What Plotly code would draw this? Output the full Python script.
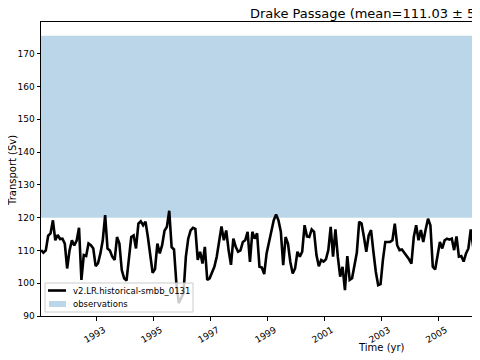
import plotly.graph_objects as go

# ---------------- data ----------------
start_year = 1991
transport = [
    110.1, 109.3, 110.0, 114.5, 115.2, 119.2, 113.1, 114.7, 113.5, 113.6,
    112.1, 104.5, 110.0, 113.1, 111.5, 113.0, 116.9, 101.0, 108.6, 108.3,
    112.1, 111.6, 110.6, 105.2, 106.1, 109.1, 113.1, 120.8, 110.6, 110.0,
    108.1, 107.1, 114.1, 112.1, 104.0, 101.5, 100.8, 108.1, 114.1, 114.6,
    110.6, 118.2, 118.9, 117.7, 118.8, 114.1, 108.1, 103.2, 104.3, 112.1,
    109.1, 111.6, 116.0, 117.2, 122.1, 111.0, 110.3, 100.0, 93.9, 95.5,
    97.0, 108.1, 113.6, 116.1, 116.9, 116.6, 107.1, 109.6, 106.0, 111.1,
    101.0, 101.5, 103.0, 105.0, 108.1, 112.1, 117.3, 113.1, 116.1, 110.1,
    105.6, 113.6, 111.1, 109.6, 110.0, 112.6, 113.1, 115.7, 106.5, 115.7,
    113.6, 115.2, 105.0, 104.8, 102.8, 109.1, 112.6, 116.2, 119.2, 121.0,
    119.2, 115.7, 105.5, 114.1, 112.1, 106.5, 103.0, 104.5, 109.6, 108.1,
    109.6, 117.7, 114.3, 114.1, 116.4, 115.7, 108.6, 105.2, 107.1, 106.6,
    107.3, 110.1, 117.2, 108.1, 116.4, 108.1, 102.0, 105.0, 97.9, 108.3,
    101.0, 101.5, 106.0, 109.3, 118.7, 118.2, 114.1, 109.6, 114.6, 116.2,
    109.6, 103.5, 99.4, 99.7, 107.1, 112.6, 112.6, 112.6, 113.1, 118.2,
    111.6, 110.1, 110.3, 109.3, 108.6, 107.3, 106.0, 114.1, 117.7, 113.1,
    116.2, 112.6, 116.4, 119.7, 117.7, 105.0, 104.2, 108.6, 112.6, 110.6,
    113.1, 113.6, 113.3, 113.6, 110.1, 114.3, 108.1, 108.3, 106.6, 109.1,
    110.6, 116.4, 111.1, 108.6, 116.2, 117.0,
]
time = [start_year + (i + 0.5) / 12 for i in range(len(transport))]

obs_low = 120.0
obs_high = 175.5

model_name = "v2.LR.historical-smbb_0131"
obs_name = "observations"
title_text = "Drake Passage (mean=111.03 \u00b1 5.12)"
x_title = "Time (yr)"
y_title = "Transport (Sv)"

x_range = [1991.04, 2006.73]
y_range = [90, 179.7]
xtick_vals = [1993, 1995, 1997, 1999, 2001, 2003, 2005]
xtick_text = [str(v) for v in xtick_vals]
ytick_vals = [90, 100, 110, 120, 130, 140, 150, 160, 170]

FONT = "DejaVu Sans"
BAND_COLOR = "rgba(31,119,180,0.3)"

# plot-area geometry in page pixels (used for text / legend placement)
PX_L, PX_W, PX_B, PX_H = 41.0, 447.0, 316.0, 294.0


def px(xp):
    return (xp - PX_L) / PX_W


def py(yp):
    return (PX_B - yp) / PX_H


fig = go.Figure()

# observation band
fig.add_trace(go.Scatter(
    x=[x_range[0], x_range[1], x_range[1], x_range[0], x_range[0]],
    y=[obs_low, obs_low, obs_high, obs_high, obs_low],
    fill="toself", fillcolor=BAND_COLOR,
    line=dict(width=0), mode="lines",
    name=obs_name, hoverinfo="skip", showlegend=False,
))

# model line
fig.add_trace(go.Scatter(
    x=time, y=transport, mode="lines",
    line=dict(color="black", width=2.6),
    name=model_name, showlegend=False,
))

axis_common = dict(
    showline=True, linecolor="black", linewidth=1, mirror=True,
    ticks="outside", ticklen=3.5, tickwidth=1, tickcolor="black",
    showgrid=False, zeroline=False, automargin=False,
    tickfont=dict(family=FONT, size=9, color="black"),
)

fig.update_xaxes(
    range=x_range, tickvals=xtick_vals, ticktext=xtick_text,
    tickangle=-30, ticklabelshift=7, ticklabelstandoff=1,
    **axis_common,
)
fig.update_yaxes(range=y_range, tickvals=ytick_vals, **axis_common)

# legend box drawn like matplotlib's (compact)
shapes = [
    dict(type="rect", xref="paper", yref="paper", layer="above",
         x0=px(45), x1=px(193), y0=py(312), y1=py(283),
         fillcolor="rgba(255,255,255,0.8)", line=dict(color="#cccccc", width=1)),
    dict(type="line", xref="paper", yref="paper", layer="above",
         x0=px(48), x1=px(66), y0=py(290.5), y1=py(290.5),
         line=dict(color="black", width=2.6)),
    dict(type="rect", xref="paper", yref="paper", layer="above",
         x0=px(49), x1=px(66), y0=py(307), y1=py(301),
         fillcolor=BAND_COLOR, line=dict(width=0)),
]

annotations = [
    dict(text=model_name, xref="paper", yref="paper", x=px(71), y=py(290.5),
         xanchor="left", yanchor="middle", showarrow=False,
         font=dict(family=FONT, size=8.5, color="black")),
    dict(text=obs_name, xref="paper", yref="paper", x=px(71), y=py(304),
         xanchor="left", yanchor="middle", showarrow=False,
         font=dict(family=FONT, size=8.5, color="black")),
    dict(text=x_title, xref="paper", yref="paper", x=px(381), y=py(348),
         xanchor="center", yanchor="middle", showarrow=False,
         font=dict(family=FONT, size=10, color="black")),
    dict(text=y_title, xref="paper", yref="paper", x=px(12), y=py(171),
         textangle=-90, xanchor="center", yanchor="middle", showarrow=False,
         font=dict(family=FONT, size=10, color="black")),
]

fig.update_layout(
    width=480, height=360,
    margin=dict(l=33, r=0, t=14, b=52, pad=0, autoexpand=False),
    paper_bgcolor="white", plot_bgcolor="white",
    font=dict(family=FONT, color="black"),
    title=dict(
        text=title_text, xref="container", yref="container",
        x=242 / 480, xanchor="left", y=1 - 5.5 / 360, yanchor="middle",
        font=dict(family=FONT, size=13, color="black"),
    ),
    showlegend=False,
    shapes=shapes,
    annotations=annotations,
)

fig.write_html("out.html")
